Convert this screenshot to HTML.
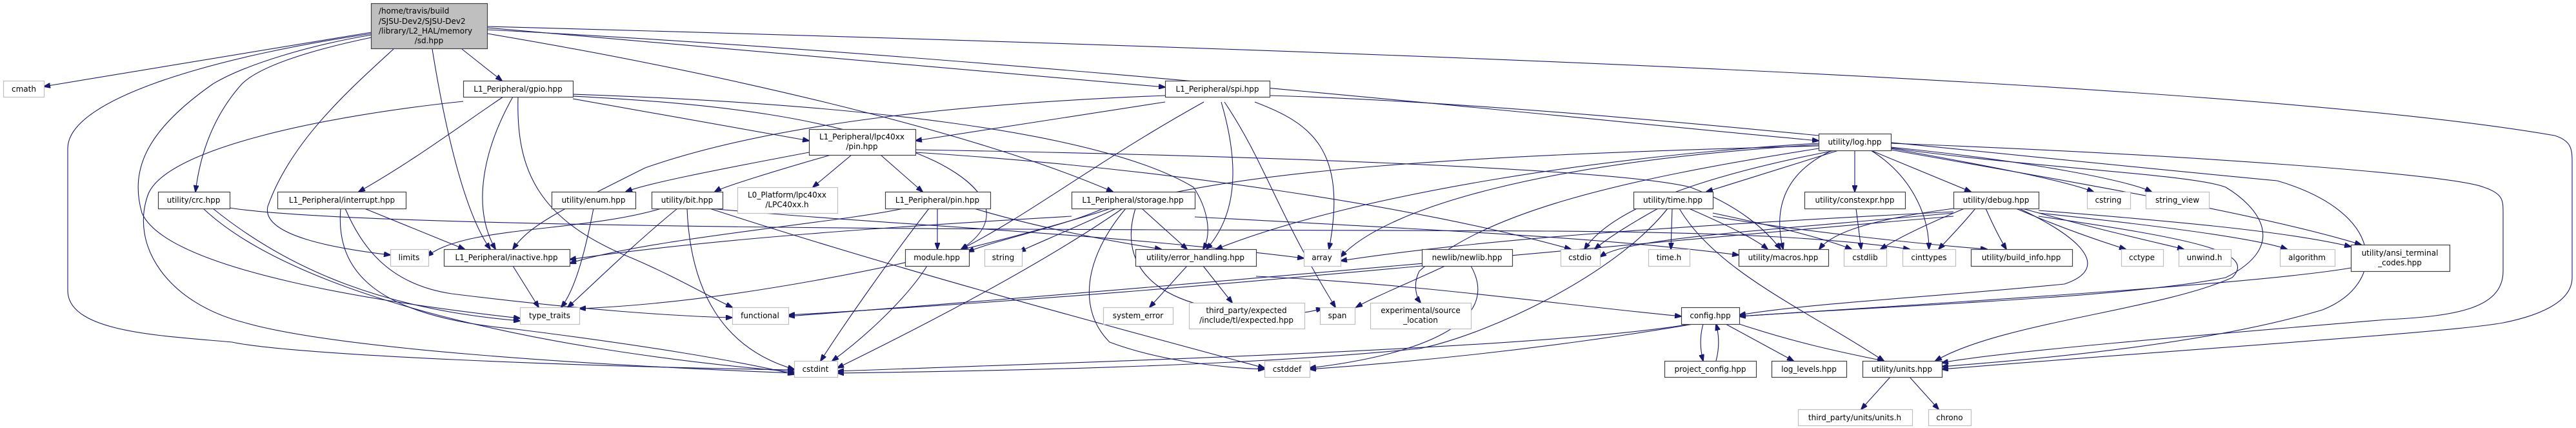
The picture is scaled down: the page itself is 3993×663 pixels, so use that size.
<!DOCTYPE html>
<html><head><meta charset="utf-8"><style>
html,body{margin:0;padding:0;background:#fff;}
svg{display:block;}
text{font-family:"DejaVu Sans","Liberation Sans",sans-serif;font-size:12px;fill:#000;}
.n rect{fill:#fff;stroke:#404040;stroke-width:1.2;}
.g rect{fill:#fff;stroke:#bfbfbf;stroke-width:1.2;}
.e path{fill:none;stroke:#191970;stroke-width:1.1;marker-end:url(#ah);}
</style></head><body>
<svg width="3993" height="663" viewBox="0 0 3993 663" xmlns="http://www.w3.org/2000/svg">
<defs><marker id="ah" markerWidth="11" markerHeight="8" refX="10" refY="4" orient="auto" markerUnits="userSpaceOnUse"><path d="M0,0 L11,4 L0,8 Z" fill="#191970" stroke="#191970"/></marker></defs>
<g class="e">
<!-- root -->
<path d="M576,50 L68,134"/>
<path d="M576,52 C350,85 105,150 105,230 L105,450 C105,515 250,520 360,530 C450,550 900,568 1231,573"/>
<path d="M576,54 C480,70 380,100 330,130 C230,200 200,260 220,330 C260,420 600,470 806,493"/>
<path d="M576,58 C470,80 400,105 375,130 C330,180 310,240 303,297"/>
<path d="M610,76 C540,140 450,220 415,320 C405,365 520,385 605,395"/>
<path d="M670,76 C690,200 720,330 760,386"/>
<path d="M716,76 L778,125"/>
<path d="M755,43 L1806,135"/>
<path d="M755,46 C1600,90 2500,190 2819,218"/>
<path d="M755,52 C1100,110 1500,200 1725,297"/>
<path d="M755,41 C2200,80 3500,130 3960,210 C3985,218 3987,230 3987,250 L3987,430 C3987,470 3930,490 3880,500 C3800,515 3400,540 3010,572"/>
<!-- gpio -->
<path d="M780,150 C720,190 640,250 556,297"/>
<path d="M795,150 C750,230 730,320 768,386"/>
<path d="M803,150 C800,260 830,340 980,400 C1050,430 1100,460 1135,476"/>
<path d="M718,157 C500,180 260,230 230,300 C200,380 260,470 380,500 C520,540 900,565 1231,578"/>
<path d="M888,153 L1254,218"/>
<path d="M888,149 C1100,160 1300,180 1450,250 C1530,290 1560,340 1490,386"/>
<path d="M888,146 C1300,160 1700,200 1850,290 C1870,320 1880,360 1865,386"/>
<!-- spi -->
<path d="M1806,148 C1500,160 1200,190 1000,260 C860,330 820,350 795,386"/>
<path d="M1806,158 L1419,218"/>
<path d="M1866,158 C1700,250 1600,330 1490,386"/>
<path d="M1893,158 C1920,250 1920,330 1870,386"/>
<path d="M1898,158 C1960,250 1980,330 2070,476"/>
<path d="M1945,158 C2030,190 2090,230 2060,386"/>
<path d="M1968,148 C2400,160 3000,230 3530,280 C3700,330 3700,440 3600,480 C3400,540 3100,560 3010,568"/>
<!-- lpc pin -->
<path d="M1254,236 C1100,265 1000,285 970,297"/>
<path d="M1288,240 C1200,265 1120,290 1108,297"/>
<path d="M1320,240 L1260,290"/>
<path d="M1365,240 L1430,297"/>
<path d="M1419,232 C1900,240 2500,260 2620,290 C2700,320 2740,360 2760,386"/>
<path d="M1419,236 C1800,260 2200,320 2435,386"/>
<!-- enum, bit -->
<path d="M920,323 C905,400 890,450 870,476"/>
<path d="M1025,323 C900,360 720,350 662,397"/>
<path d="M1050,323 C980,380 920,440 880,476"/>
<path d="M1065,323 C1070,450 1120,540 1231,572"/>
<path d="M1100,323 C1400,420 1700,500 1960,570"/>
<path d="M1100,323 C1400,350 1700,360 2021,400"/>
<!-- crc -->
<path d="M330,323 C450,420 600,480 806,497"/>
<path d="M315,323 C450,450 800,540 1231,576"/>
<path d="M356,322 C600,360 2000,355 2400,358 C2700,360 2850,370 2960,386"/>
<!-- interrupt -->
<path d="M565,323 L720,386"/>
<path d="M535,323 C560,380 600,440 700,455 C900,480 1050,490 1135,492"/>
<path d="M528,323 C520,420 580,490 800,510 C1000,535 1150,560 1231,580"/>
<path d="M795,412 L835,476"/>
<!-- pin.hpp -->
<path d="M1400,323 C1300,345 1000,370 883,408"/>
<path d="M1453,323 L1453,386"/>
<path d="M1510,323 C1600,350 1700,370 1800,386"/>
<path d="M1440,323 C1380,400 1310,500 1272,559"/>
<!-- storage -->
<path d="M1661,335 C1400,350 1100,370 883,402"/>
<path d="M1710,323 C1650,350 1550,370 1500,390"/>
<path d="M1730,323 C1650,360 1600,380 1580,390"/>
<path d="M1740,323 C1600,420 1400,520 1298,570"/>
<path d="M1745,323 C1680,400 1670,480 1720,530 C1800,560 1900,570 1960,572"/>
<path d="M1770,323 L1840,386"/>
<path d="M1760,323 C1730,420 1800,490 2000,485 C2030,485 2040,480 2050,478"/>
<path d="M1852,336 C2300,360 2500,370 2695,395"/>
<path d="M1437,412 C1400,470 1330,530 1290,559"/>
<!-- error handling -->
<path d="M1840,412 L1782,476"/>
<path d="M1865,412 L1910,469"/>
<path d="M1947,428 C2200,440 2400,470 2606,490"/>
<!-- log -->
<path d="M2819,222 C2500,240 2100,300 1885,386"/>
<path d="M2819,226 C2300,240 1900,260 1700,330 C1400,420 1100,470 898,478"/>
<path d="M2819,224 C2400,250 2150,320 2078,398"/>
<path d="M2845,233 C2650,270 2500,320 2456,386"/>
<path d="M2850,233 L2645,297"/>
<path d="M2875,233 L2875,297"/>
<path d="M2900,233 C2960,270 2990,330 2990,386"/>
<path d="M2900,233 L3055,297"/>
<path d="M2931,230 C3100,260 3200,280 3245,297"/>
<path d="M2931,228 C3150,250 3300,280 3335,297"/>
<path d="M2931,232 C3200,280 3500,330 3660,379"/>
<path d="M2931,222 C3400,240 3800,270 3850,290 C3880,300 3880,310 3880,330 L3880,420 C3880,480 3800,490 3700,495 C3400,520 3100,545 3010,562"/>
<path d="M2931,229 C3150,260 3400,270 3450,290 C3500,320 3550,380 3450,430 C3300,460 3000,470 2696,490"/>
<path d="M2840,233 C2760,270 2750,330 2764,386"/>
<path d="M2819,230 C2500,280 2300,330 2200,420 C2190,440 2195,460 2202,469"/>
<!-- time -->
<path d="M2570,323 C2530,345 2490,370 2472,386"/>
<path d="M2592,323 L2590,386"/>
<path d="M2618,323 C2680,350 2720,370 2740,386"/>
<path d="M2603,323 C2660,420 2800,480 2920,559"/>
<path d="M2585,323 C2500,430 2300,520 2200,540 C1900,570 1500,575 1298,578"/>
<path d="M2655,330 C2750,350 2830,370 2870,386"/>
<path d="M2655,335 C2800,360 3000,380 3080,386"/>
<!-- newlib -->
<path d="M2240,412 C2180,440 2130,460 2102,476"/>
<path d="M2280,412 C2330,500 2200,550 2030,570"/>
<path d="M2204,412 C2000,430 1700,460 1222,488"/>
<!-- debug -->
<path d="M3028,323 C2900,340 2840,360 2820,386"/>
<path d="M3045,323 C2980,350 2940,370 2915,386"/>
<path d="M3062,323 C3040,350 3020,370 3005,386"/>
<path d="M3078,323 C3090,350 3100,370 3110,386"/>
<path d="M3125,323 C3200,355 3260,375 3295,386"/>
<path d="M3135,323 C3250,355 3340,375 3385,386"/>
<path d="M3160,330 C3350,350 3500,370 3545,386"/>
<path d="M3160,326 C3400,345 3550,360 3644,382"/>
<path d="M3028,330 C2700,360 2520,370 2480,398"/>
<path d="M3028,328 C2600,350 2300,370 2078,404"/>
<path d="M3130,323 C3250,380 3260,420 3200,440 C3000,460 2800,470 2696,488"/>
<path d="M3160,335 C3400,370 3500,390 3460,430 C3350,480 3100,500 3000,559"/>
<path d="M3028,335 C2500,380 2000,430 1222,490"/>
<path d="M2877,323 L2885,386"/>
<!-- config -->
<path d="M2640,502 C2635,520 2635,540 2640,559"/>
<path d="M2660,559 C2665,540 2665,520 2660,502"/>
<path d="M2675,502 L2780,559"/>
<path d="M2690,500 C2780,530 2850,545 2920,559"/>
<path d="M2620,502 C2400,540 1700,560 1298,575"/>
<path d="M2625,502 C2400,540 2200,560 2030,572"/>
<path d="M3644,415 C3500,440 3000,470 2696,490"/>
<path d="M2930,584 L2885,634"/>
<path d="M2960,584 L3005,634"/>
</g>
<!-- root -->
<rect x="575.5" y="5.5" width="180" height="70" fill="#bfbfbf" stroke="#404040" stroke-width="1.2"/>
<text x="587" y="21">/home/travis/build</text>
<text x="587" y="37">/SJSU-Dev2/SJSU-Dev2</text>
<text x="587" y="52">/library/L2_HAL/memory</text>
<text x="665" y="67" text-anchor="middle">/sd.hpp</text>
<g text-anchor="middle">
<g class="g"><rect x="5.5" y="125.5" width="63" height="25"/><text x="37" y="142">cmath</text></g>
<g class="n"><rect x="718.5" y="125.5" width="170" height="25"/><text x="803" y="142">L1_Peripheral/gpio.hpp</text></g>
<g class="n"><rect x="1806.5" y="125.5" width="162" height="25"/><text x="1887" y="142">L1_Peripheral/spi.hpp</text></g>
<g class="n"><rect x="1254.5" y="200.5" width="165" height="40"/><text x="1336" y="216">L1_Peripheral/lpc40xx</text><text x="1336" y="231">/pin.hpp</text></g>
<g class="n"><rect x="2819.5" y="207.5" width="112" height="26"/><text x="2875" y="224">utility/log.hpp</text></g>
<g class="n"><rect x="245.5" y="297.5" width="111" height="26"/><text x="300" y="314">utility/crc.hpp</text></g>
<g class="n"><rect x="430.5" y="297.5" width="199" height="26"/><text x="530" y="314">L1_Peripheral/interrupt.hpp</text></g>
<g class="n"><rect x="855.5" y="297.5" width="130" height="26"/><text x="920" y="314">utility/enum.hpp</text></g>
<g class="n"><rect x="1010.5" y="297.5" width="110" height="26"/><text x="1065" y="314">utility/bit.hpp</text></g>
<g class="g"><rect x="1143.5" y="290.5" width="155" height="40"/><text x="1220" y="306">L0_Platform/lpc40xx</text><text x="1220" y="321">/LPC40xx.h</text></g>
<g class="n"><rect x="1372.5" y="297.5" width="163" height="26"/><text x="1453" y="314">L1_Peripheral/pin.hpp</text></g>
<g class="n"><rect x="1661.5" y="297.5" width="191" height="26"/><text x="1756" y="314">L1_Peripheral/storage.hpp</text></g>
<g class="n"><rect x="2532.5" y="297.5" width="123" height="26"/><text x="2593" y="314">utility/time.hpp</text></g>
<g class="n"><rect x="2797.5" y="297.5" width="156" height="26"/><text x="2875" y="314">utility/constexpr.hpp</text></g>
<g class="n"><rect x="3028.5" y="297.5" width="132" height="26"/><text x="3094" y="314">utility/debug.hpp</text></g>
<g class="g"><rect x="3235.5" y="297.5" width="67" height="26"/><text x="3268" y="314">cstring</text></g>
<g class="g"><rect x="3326.5" y="297.5" width="98" height="26"/><text x="3375" y="314">string_view</text></g>
<g class="g"><rect x="605.5" y="386.5" width="59" height="26"/><text x="634" y="403">limits</text></g>
<g class="n"><rect x="688.5" y="386.5" width="195" height="26"/><text x="785" y="403">L1_Peripheral/inactive.hpp</text></g>
<g class="n"><rect x="1403.5" y="386.5" width="99" height="26"/><text x="1452" y="403">module.hpp</text></g>
<g class="g"><rect x="1526.5" y="386.5" width="58" height="26"/><text x="1555" y="403">string</text></g>
<g class="n"><rect x="1760.5" y="386.5" width="187" height="26"/><text x="1853" y="403">utility/error_handling.hpp</text></g>
<g class="g"><rect x="2021.5" y="386.5" width="57" height="26"/><text x="2049" y="403">array</text></g>
<g class="n"><rect x="2204.5" y="386.5" width="140" height="26"/><text x="2274" y="403">newlib/newlib.hpp</text></g>
<g class="g"><rect x="2419.5" y="386.5" width="61" height="26"/><text x="2449" y="403">cstdio</text></g>
<g class="g"><rect x="2555.5" y="386.5" width="64" height="26"/><text x="2587" y="403">time.h</text></g>
<g class="n"><rect x="2695.5" y="386.5" width="139" height="26"/><text x="2764" y="403">utility/macros.hpp</text></g>
<g class="g"><rect x="2858.5" y="386.5" width="66" height="26"/><text x="2891" y="403">cstdlib</text></g>
<g class="g"><rect x="2949.5" y="386.5" width="82" height="26"/><text x="2990" y="403">cinttypes</text></g>
<g class="n"><rect x="3055.5" y="386.5" width="157" height="26"/><text x="3133" y="403">utility/build_info.hpp</text></g>
<g class="g"><rect x="3288.5" y="386.5" width="65" height="26"/><text x="3320" y="403">cctype</text></g>
<g class="g"><rect x="3377.5" y="386.5" width="81" height="26"/><text x="3417" y="403">unwind.h</text></g>
<g class="g"><rect x="3534.5" y="386.5" width="85" height="26"/><text x="3576" y="403">algorithm</text></g>
<g class="n"><rect x="3644.5" y="379.5" width="153" height="41"/><text x="3720" y="396">utility/ansi_terminal</text><text x="3720" y="411">_codes.hpp</text></g>
<g class="g"><rect x="806.5" y="476.5" width="92" height="26"/><text x="852" y="493">type_traits</text></g>
<g class="g"><rect x="1135.5" y="476.5" width="87" height="26"/><text x="1178" y="493">functional</text></g>
<g class="g"><rect x="1710.5" y="476.5" width="108" height="26"/><text x="1764" y="493">system_error</text></g>
<g class="g"><rect x="1843.5" y="469.5" width="179" height="40"/><text x="1932" y="485">third_party/expected</text><text x="1932" y="500">/include/tl/expected.hpp</text></g>
<g class="g"><rect x="2046.5" y="476.5" width="54" height="26"/><text x="2073" y="493">span</text></g>
<g class="g"><rect x="2124.5" y="469.5" width="156" height="40"/><text x="2202" y="485">experimental/source</text><text x="2202" y="500">_location</text></g>
<g class="n"><rect x="2606.5" y="476.5" width="90" height="26"/><text x="2651" y="493">config.hpp</text></g>
<g class="g"><rect x="1231.5" y="559.5" width="67" height="25"/><text x="1264" y="576">cstdint</text></g>
<g class="g"><rect x="1960.5" y="559.5" width="70" height="25"/><text x="1995" y="576">cstddef</text></g>
<g class="n"><rect x="2580.5" y="559.5" width="142" height="25"/><text x="2651" y="576">project_config.hpp</text></g>
<g class="n"><rect x="2746.5" y="559.5" width="116" height="25"/><text x="2804" y="576">log_levels.hpp</text></g>
<g class="n"><rect x="2887.5" y="559.5" width="123" height="25"/><text x="2948" y="576">utility/units.hpp</text></g>
<g class="g"><rect x="2787.5" y="634.5" width="177" height="25"/><text x="2875" y="651">third_party/units/units.h</text></g>
<g class="g"><rect x="2989.5" y="634.5" width="66" height="25"/><text x="3022" y="651">chrono</text></g>
</g>
</svg>
</body></html>
